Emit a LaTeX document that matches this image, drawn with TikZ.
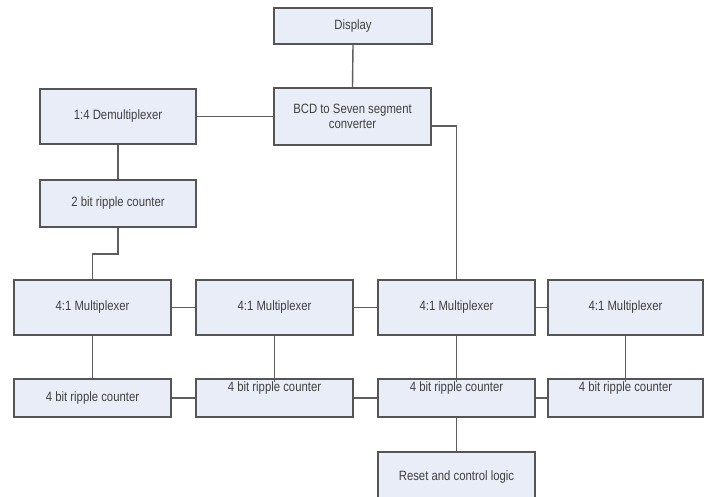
\documentclass[tikz,border=0pt]{standalone}
\usepackage{fontspec}
\setmainfont[FakeStretch=0.84]{Liberation Sans}
\usetikzlibrary{calc}
\definecolor{boxfill}{HTML}{E8EDF7}
\definecolor{boxline}{HTML}{555555}
\definecolor{wire}{HTML}{5E5E5E}
\definecolor{txt}{HTML}{404040}
\tikzset{
  blk/.style={draw=boxline, line width=1.7pt, fill=boxfill, rectangle,
    inner sep=3pt, text=txt, align=center,
    font=\fontsize{13.5}{15}\selectfont},
  topblk/.style={blk, text height=9pt, text depth=23pt},
  wireline/.style={draw=wire, line width=1.4pt}
}
\begin{document}
\begin{tikzpicture}[x=1pt,y=-1pt]
\useasboundingbox[fill=white] (0,0) rectangle (709,496);
% top part
\node[blk, minimum width=158pt, minimum height=36pt] (disp) at (353,26) {Display};
\node[blk, minimum width=157pt, minimum height=57pt] (bcd) at (352.5,116.5) {BCD to Seven segment\\converter};
\node[blk, minimum width=156pt, minimum height=55pt] (demux) at (118,116.5) {1:4 Demultiplexer};
\node[blk, minimum width=156pt, minimum height=47pt] (cnt2) at (118,203.5) {2 bit ripple counter};
% multiplexers
\node[blk, minimum width=157pt, minimum height=55pt] (mux1) at (92.5,307.5) {4:1 Multiplexer};
\node[blk, minimum width=157pt, minimum height=55pt] (mux2) at (274.5,307.5) {4:1 Multiplexer};
\node[blk, minimum width=157pt, minimum height=55pt] (mux3) at (456.5,307.5) {4:1 Multiplexer};
\node[blk, minimum width=155pt, minimum height=55pt] (mux4) at (625.5,307.5) {4:1 Multiplexer};
% counters
\node[blk, minimum width=157pt, minimum height=38pt] (rc1) at (92.5,398) {4 bit ripple counter};
\node[topblk, minimum width=157pt, minimum height=38pt] (rc2) at (274.5,398) {4 bit ripple counter};
\node[topblk, minimum width=157pt, minimum height=38pt] (rc3) at (456.5,398) {4 bit ripple counter};
\node[topblk, minimum width=155pt, minimum height=38pt] (rc4) at (625.5,398) {4 bit ripple counter};
% reset
\node[blk, minimum width=157pt, minimum height=50pt] (reset) at (456.5,477) {Reset and control logic};
% connectors
\draw[wireline] (disp.south) -- (bcd.north);
\draw[wireline] (demux.east) -- (bcd.west);
\draw[wireline] (demux.south) -- (cnt2.north);
\draw[wireline] (cnt2.south) -- ++(0,26) -| (mux1.north);
\draw[wireline] ([yshift=-9.5pt]bcd.east) -| (mux3.north);
\draw[wireline] (mux1.east) -- (mux2.west);
\draw[wireline] (mux2.east) -- (mux3.west);
\draw[wireline] (mux3.east) -- (mux4.west);
\draw[wireline] (mux1.south) -- (rc1.north);
\draw[wireline] (mux2.south) -- ([yshift=-4pt]rc2.north);
\draw[wireline] (mux3.south) -- ([yshift=-4pt]rc3.north);
\draw[wireline] (mux4.south) -- ([yshift=-4pt]rc4.north);
\draw[wireline] (rc1.east) -- (rc2.west);
\draw[wireline] (rc2.east) -- (rc3.west);
\draw[wireline] (rc3.east) -- (rc4.west);
\draw[wireline] (rc3.south) -- (reset.north);
\end{tikzpicture}
\end{document}
